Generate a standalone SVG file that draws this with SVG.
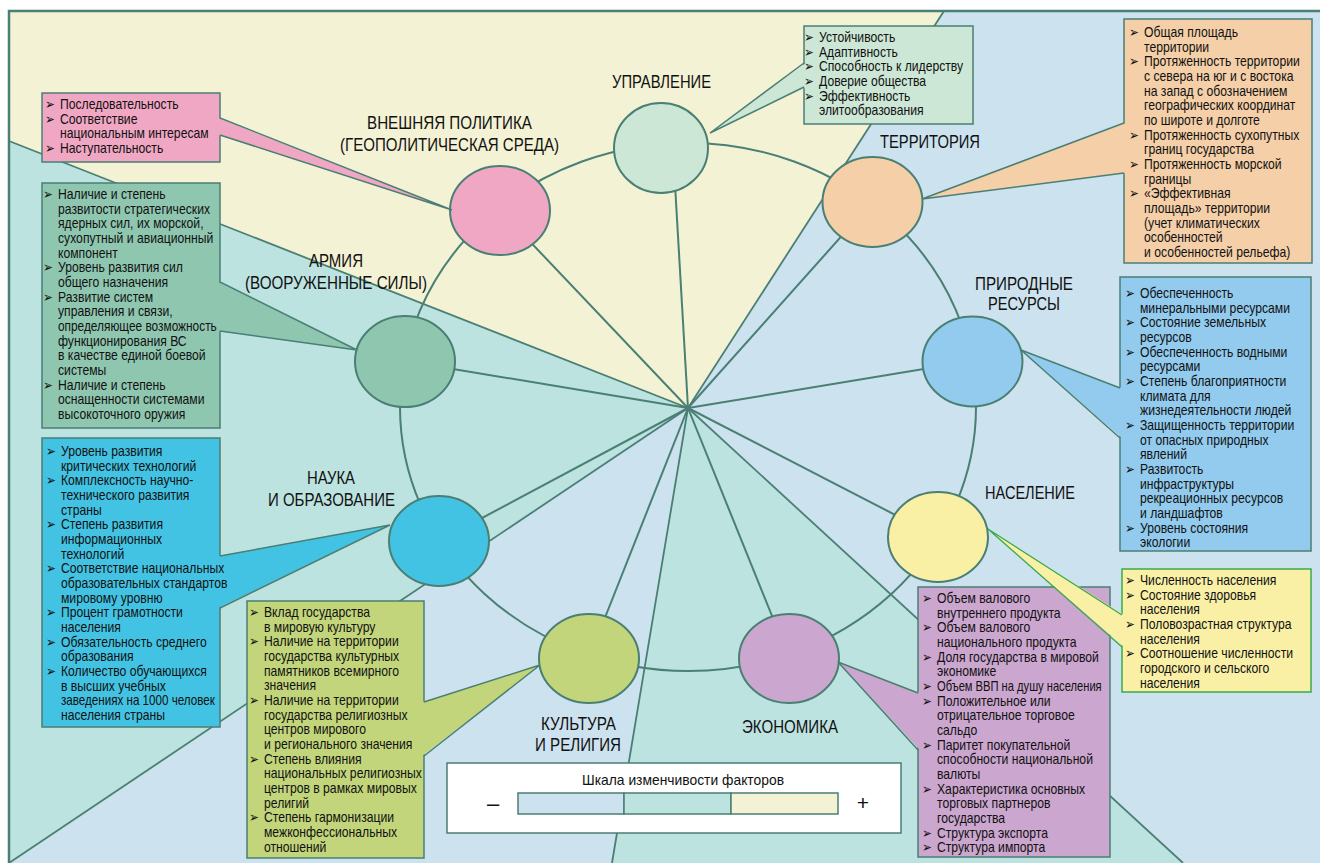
<svg xmlns="http://www.w3.org/2000/svg" width="1320" height="863" viewBox="0 0 1320 863">
<style>
.frame{stroke:#4a7f73;stroke-width:2.5;fill:none}
.bd{stroke:#4a7f73;stroke-width:1.8;fill:none}
.ln{stroke:#4a7f73;stroke-width:2;fill:none}
.nd{stroke:#4a7f73;stroke-width:2}
.bx{stroke:#4a7f73;stroke-width:1.5}
.wg{stroke:#4a7f73;stroke-width:1.5;fill:none}
.gbx{stroke:#3aaa4a;stroke-width:1.5}
.gwg{stroke:#3aaa4a;stroke-width:1.3;fill:none}
.t{font-family:"Liberation Sans",Arial,sans-serif;font-size:14.5px;fill:#111111}
.b{font-family:"DejaVu Sans",sans-serif;font-size:14px;font-weight:bold;fill:#111111}
.lb{font-family:"Liberation Sans",Arial,sans-serif;font-size:19px;fill:#111111}
.lg{font-family:"Liberation Sans",Arial,sans-serif;fill:#111111}
</style>
<rect x="0" y="0" width="1320" height="863" fill="#ffffff"/>
<g id="background">
<polygon points="9,11 944,11 688,408 9,141" fill="#f4f2d4"/>
<polygon points="9,141 688,408 9,863" fill="#bde3e1"/>
<polygon points="9,863 688,408 612,863" fill="#cce2ef"/>
<polygon points="612,863 688,408 1183,863" fill="#bde3e1"/>
<polygon points="1183,863 688,408 944,11 1320,11 1320,863" fill="#cce2ef"/>
<path class="frame" d="M9,863 V11 H1320"/>
</g>
<g id="connectors">
<line class="bd" x1="688" y1="408" x2="9" y2="141"/>
<line class="bd" x1="688" y1="408" x2="944" y2="11"/>
<line class="bd" x1="688" y1="408" x2="9" y2="863"/>
<line class="bd" x1="688" y1="408" x2="612" y2="863"/>
<line class="bd" x1="688" y1="408" x2="1183" y2="863"/>
<ellipse class="ln" cx="688" cy="407" rx="288" ry="264"/>
<line class="ln" x1="688" y1="408" x2="673" y2="150"/>
<line class="ln" x1="688" y1="408" x2="500" y2="210"/>
<line class="ln" x1="688" y1="408" x2="872" y2="202"/>
<line class="ln" x1="688" y1="408" x2="972" y2="361"/>
<line class="ln" x1="688" y1="408" x2="938" y2="537"/>
<line class="ln" x1="688" y1="408" x2="789" y2="658"/>
<line class="ln" x1="688" y1="408" x2="589" y2="658"/>
<line class="ln" x1="688" y1="408" x2="439" y2="541"/>
<line class="ln" x1="688" y1="408" x2="405" y2="361"/>
</g>

<g id="node-upravlenie">
<ellipse class="nd" cx="661" cy="148" rx="47" ry="45" fill="#cde7d6"/>
<text class="lb" x="612" y="88" textLength="99" lengthAdjust="spacingAndGlyphs">УПРАВЛЕНИЕ</text>
<rect class="bx" x="804" y="26" width="169" height="98" fill="#cde7d6"/>
<polygon points="806,63 710,133 806,87" fill="#cde7d6"/>
<polyline class="wg" points="804,63 710,133 804,87"/>
<g transform="translate(819,42) scale(0.84,1)">
<text class="b" x="-18" y="0">➢</text><text class="t" x="0" y="0">Устойчивость</text>
<text class="b" x="-18" y="14.67">➢</text><text class="t" x="0" y="14.67">Адаптивность</text>
<text class="b" x="-18" y="29.33">➢</text><text class="t" x="0" y="29.33">Способность к лидерству</text>
<text class="b" x="-18" y="44">➢</text><text class="t" x="0" y="44">Доверие общества</text>
<text class="b" x="-18" y="58.67">➢</text><text class="t" x="0" y="58.67">Эффективность</text>
<text class="t" x="0" y="73.33">элитообразования</text>
</g>
</g>

<g id="node-vneshnyaya-politika">
<ellipse class="nd" cx="500" cy="210.5" rx="50" ry="44.5" fill="#f0a7c4"/>
<text class="lb" x="367" y="129" textLength="165" lengthAdjust="spacingAndGlyphs">ВНЕШНЯЯ ПОЛИТИКА</text>
<text class="lb" x="340" y="151" textLength="219" lengthAdjust="spacingAndGlyphs">(ГЕОПОЛИТИЧЕСКАЯ СРЕДА)</text>
<rect class="bx" x="42" y="93" width="178" height="69" fill="#f0a7c4"/>
<polygon points="218,118 452,210 218,135" fill="#f0a7c4"/>
<polyline class="wg" points="220,118 452,210 220,135"/>
<g transform="translate(60,109) scale(0.84,1)">
<text class="b" x="-18" y="0">➢</text><text class="t" x="0" y="0">Последовательность</text>
<text class="b" x="-18" y="14.67">➢</text><text class="t" x="0" y="14.67">Соответствие</text>
<text class="t" x="0" y="29.33">национальным интересам</text>
<text class="b" x="-18" y="44">➢</text><text class="t" x="0" y="44">Наступательность</text>
</g>
</g>

<g id="node-territoriya">
<ellipse class="nd" cx="872.5" cy="202" rx="50" ry="45" fill="#f4cfa8"/>
<text class="lb" x="880" y="148" textLength="100" lengthAdjust="spacingAndGlyphs">ТЕРРИТОРИЯ</text>
<rect class="bx" x="1124" y="19" width="188" height="244" fill="#f4cfa8"/>
<polygon points="1126,123 922,199 1126,173" fill="#f4cfa8"/>
<polyline class="wg" points="1124,123 922,199 1124,173"/>
<g transform="translate(1144,37) scale(0.84,1)">
<text class="b" x="-18" y="0">➢</text><text class="t" x="0" y="0">Общая площадь</text>
<text class="t" x="0" y="14.67">территории</text>
<text class="b" x="-18" y="29.33">➢</text><text class="t" x="0" y="29.33">Протяженность территории</text>
<text class="t" x="0" y="44">с севера на юг и с востока</text>
<text class="t" x="0" y="58.67">на запад с обозначением</text>
<text class="t" x="0" y="73.33">географических координат</text>
<text class="t" x="0" y="88">по широте и долготе</text>
<text class="b" x="-18" y="102.67">➢</text><text class="t" x="0" y="102.67">Протяженность сухопутных</text>
<text class="t" x="0" y="117.33">границ государства</text>
<text class="b" x="-18" y="132">➢</text><text class="t" x="0" y="132">Протяженность морской</text>
<text class="t" x="0" y="146.67">границы</text>
<text class="b" x="-18" y="161.33">➢</text><text class="t" x="0" y="161.33">«Эффективная</text>
<text class="t" x="0" y="176">площадь» территории</text>
<text class="t" x="0" y="190.67">(учет климатических</text>
<text class="t" x="0" y="205.33">особенностей</text>
<text class="t" x="0" y="220">и особенностей рельефа)</text>
</g>
</g>

<g id="node-prirodnye-resursy">
<ellipse class="nd" cx="972.5" cy="361.5" rx="50" ry="45" fill="#92cbee"/>
<text class="lb" x="975" y="290" textLength="98" lengthAdjust="spacingAndGlyphs">ПРИРОДНЫЕ</text>
<text class="lb" x="988" y="310" textLength="72" lengthAdjust="spacingAndGlyphs">РЕСУРСЫ</text>
<rect class="bx" x="1120" y="277" width="191" height="274" fill="#92cbee"/>
<polygon points="1122,388 1021,350 1122,438" fill="#92cbee"/>
<polyline class="wg" points="1120,388 1021,350 1120,438"/>
<g transform="translate(1140,298) scale(0.84,1)">
<text class="b" x="-18" y="0">➢</text><text class="t" x="0" y="0">Обеспеченность</text>
<text class="t" x="0" y="14.67">минеральными ресурсами</text>
<text class="b" x="-18" y="29.33">➢</text><text class="t" x="0" y="29.33">Состояние земельных</text>
<text class="t" x="0" y="44">ресурсов</text>
<text class="b" x="-18" y="58.67">➢</text><text class="t" x="0" y="58.67">Обеспеченность водными</text>
<text class="t" x="0" y="73.33">ресурсами</text>
<text class="b" x="-18" y="88">➢</text><text class="t" x="0" y="88">Степень благоприятности</text>
<text class="t" x="0" y="102.67">климата для</text>
<text class="t" x="0" y="117.33">жизнедеятельности людей</text>
<text class="b" x="-18" y="132">➢</text><text class="t" x="0" y="132">Защищенность территории</text>
<text class="t" x="0" y="146.67">от опасных природных</text>
<text class="t" x="0" y="161.33">явлений</text>
<text class="b" x="-18" y="176">➢</text><text class="t" x="0" y="176">Развитость</text>
<text class="t" x="0" y="190.67">инфраструктуры</text>
<text class="t" x="0" y="205.33">рекреационных ресурсов</text>
<text class="t" x="0" y="220">и ландшафтов</text>
<text class="b" x="-18" y="234.67">➢</text><text class="t" x="0" y="234.67">Уровень состояния</text>
<text class="t" x="0" y="249.33">экологии</text>
</g>
</g>

<g id="node-armiya">
<ellipse class="nd" cx="405" cy="361.5" rx="50" ry="45.5" fill="#8fc6b0"/>
<text class="lb" x="309" y="267" textLength="54" lengthAdjust="spacingAndGlyphs">АРМИЯ</text>
<text class="lb" x="245" y="289" textLength="182" lengthAdjust="spacingAndGlyphs">(ВООРУЖЕННЫЕ СИЛЫ)</text>
<rect class="bx" x="42" y="183" width="178" height="245" fill="#8fc6b0"/>
<polygon points="218,282 357,350 218,331" fill="#8fc6b0"/>
<polyline class="wg" points="220,282 357,350 220,331"/>
<g transform="translate(58,199) scale(0.84,1)">
<text class="b" x="-18" y="0">➢</text><text class="t" x="0" y="0">Наличие и степень</text>
<text class="t" x="0" y="14.67">развитости стратегических</text>
<text class="t" x="0" y="29.33">ядерных сил, их морской,</text>
<text class="t" x="0" y="44">сухопутный и авиационный</text>
<text class="t" x="0" y="58.67">компонент</text>
<text class="b" x="-18" y="73.33">➢</text><text class="t" x="0" y="73.33">Уровень развития сил</text>
<text class="t" x="0" y="88">общего назначения</text>
<text class="b" x="-18" y="102.67">➢</text><text class="t" x="0" y="102.67">Развитие систем</text>
<text class="t" x="0" y="117.33">управления и связи,</text>
<text class="t" x="0" y="132" textLength="189" lengthAdjust="spacingAndGlyphs">определяющее возможность</text>
<text class="t" x="0" y="146.67">функционирования ВС</text>
<text class="t" x="0" y="161.33">в качестве единой боевой</text>
<text class="t" x="0" y="176">системы</text>
<text class="b" x="-18" y="190.67">➢</text><text class="t" x="0" y="190.67">Наличие и степень</text>
<text class="t" x="0" y="205.33">оснащенности системами</text>
<text class="t" x="0" y="220">высокоточного оружия</text>
</g>
</g>

<g id="node-nauka">
<ellipse class="nd" cx="439" cy="541" rx="50" ry="45" fill="#43c3e3"/>
<text class="lb" x="307" y="484" textLength="48" lengthAdjust="spacingAndGlyphs">НАУКА</text>
<text class="lb" x="268" y="506" textLength="127" lengthAdjust="spacingAndGlyphs">И ОБРАЗОВАНИЕ</text>
<rect class="bx" x="42" y="438" width="178" height="289" fill="#43c3e3"/>
<polygon points="218,556 390,525 218,608" fill="#43c3e3"/>
<polyline class="wg" points="220,556 390,525 220,608"/>
<g transform="translate(61,456) scale(0.84,1)">
<text class="b" x="-18" y="0">➢</text><text class="t" x="0" y="0">Уровень развития</text>
<text class="t" x="0" y="14.67">критических технологий</text>
<text class="b" x="-18" y="29.33">➢</text><text class="t" x="0" y="29.33">Комплексность научно-</text>
<text class="t" x="0" y="44">технического развития</text>
<text class="t" x="0" y="58.67">страны</text>
<text class="b" x="-18" y="73.33">➢</text><text class="t" x="0" y="73.33">Степень развития</text>
<text class="t" x="0" y="88">информационных</text>
<text class="t" x="0" y="102.67">технологий</text>
<text class="b" x="-18" y="117.33">➢</text><text class="t" x="0" y="117.33">Соответствие национальных</text>
<text class="t" x="0" y="132">образовательных стандартов</text>
<text class="t" x="0" y="146.67">мировому уровню</text>
<text class="b" x="-18" y="161.33">➢</text><text class="t" x="0" y="161.33">Процент грамотности</text>
<text class="t" x="0" y="176">населения</text>
<text class="b" x="-18" y="190.67">➢</text><text class="t" x="0" y="190.67">Обязательность среднего</text>
<text class="t" x="0" y="205.33">образования</text>
<text class="b" x="-18" y="220">➢</text><text class="t" x="0" y="220">Количество обучающихся</text>
<text class="t" x="0" y="234.67">в высших учебных</text>
<text class="t" x="0" y="249.33" textLength="183" lengthAdjust="spacingAndGlyphs">заведениях на 1000 человек</text>
<text class="t" x="0" y="264">населения страны</text>
</g>
</g>

<g id="node-kultura">
<ellipse class="nd" cx="589" cy="658.5" rx="50" ry="44.5" fill="#c3d57b"/>
<text class="lb" x="541" y="730" textLength="75" lengthAdjust="spacingAndGlyphs">КУЛЬТУРА</text>
<text class="lb" x="535" y="751" textLength="86" lengthAdjust="spacingAndGlyphs">И РЕЛИГИЯ</text>
<rect class="bx" x="247" y="601" width="177" height="257" fill="#c3d57b"/>
<polygon points="422,702 540,665 422,756" fill="#c3d57b"/>
<polyline class="wg" points="424,702 540,665 424,756"/>
<g transform="translate(264,617) scale(0.84,1)">
<text class="b" x="-18" y="0">➢</text><text class="t" x="0" y="0">Вклад государства</text>
<text class="t" x="0" y="14.67">в мировую культуру</text>
<text class="b" x="-18" y="29.33">➢</text><text class="t" x="0" y="29.33">Наличие на территории</text>
<text class="t" x="0" y="44">государства культурных</text>
<text class="t" x="0" y="58.67">памятников всемирного</text>
<text class="t" x="0" y="73.33">значения</text>
<text class="b" x="-18" y="88">➢</text><text class="t" x="0" y="88">Наличие на территории</text>
<text class="t" x="0" y="102.67">государства религиозных</text>
<text class="t" x="0" y="117.33">центров мирового</text>
<text class="t" x="0" y="132">и регионального значения</text>
<text class="b" x="-18" y="146.67">➢</text><text class="t" x="0" y="146.67">Степень влияния</text>
<text class="t" x="0" y="161.33">национальных религиозных</text>
<text class="t" x="0" y="176">центров в рамках мировых</text>
<text class="t" x="0" y="190.67">религий</text>
<text class="b" x="-18" y="205.33">➢</text><text class="t" x="0" y="205.33">Степень гармонизации</text>
<text class="t" x="0" y="220">межконфессиональных</text>
<text class="t" x="0" y="234.67">отношений</text>
</g>
</g>

<g id="node-ekonomika">
<ellipse class="nd" cx="789" cy="658.5" rx="50" ry="44.5" fill="#cba6ce"/>
<text class="lb" x="742" y="733" textLength="96" lengthAdjust="spacingAndGlyphs">ЭКОНОМИКА</text>
<rect class="bx" x="918" y="587" width="192" height="270" fill="#cba6ce"/>
<polygon points="920,693 838,662 920,750" fill="#cba6ce"/>
<polyline class="wg" points="918,693 838,662 918,750"/>
<g transform="translate(937,603) scale(0.84,1)">
<text class="b" x="-18" y="0">➢</text><text class="t" x="0" y="0">Объем валового</text>
<text class="t" x="0" y="14.67">внутреннего продукта</text>
<text class="b" x="-18" y="29.33">➢</text><text class="t" x="0" y="29.33">Объем валового</text>
<text class="t" x="0" y="44">национального продукта</text>
<text class="b" x="-18" y="58.67">➢</text><text class="t" x="0" y="58.67">Доля государства в мировой</text>
<text class="t" x="0" y="73.33">экономике</text>
<text class="b" x="-18" y="88">➢</text><text class="t" x="0" y="88" textLength="196" lengthAdjust="spacingAndGlyphs">Объем ВВП на душу населения</text>
<text class="b" x="-18" y="102.67">➢</text><text class="t" x="0" y="102.67">Положительное или</text>
<text class="t" x="0" y="117.33">отрицательное торговое</text>
<text class="t" x="0" y="132">сальдо</text>
<text class="b" x="-18" y="146.67">➢</text><text class="t" x="0" y="146.67">Паритет покупательной</text>
<text class="t" x="0" y="161.33">способности национальной</text>
<text class="t" x="0" y="176">валюты</text>
<text class="b" x="-18" y="190.67">➢</text><text class="t" x="0" y="190.67">Характеристика основных</text>
<text class="t" x="0" y="205.33">торговых партнеров</text>
<text class="t" x="0" y="220">государства</text>
<text class="b" x="-18" y="234.67">➢</text><text class="t" x="0" y="234.67">Структура экспорта</text>
<text class="b" x="-18" y="249.33">➢</text><text class="t" x="0" y="249.33">Структура импорта</text>
</g>
</g>

<g id="node-naselenie">
<ellipse class="nd" cx="938" cy="537" rx="50" ry="45" fill="#f9f0a6"/>
<text class="lb" x="985" y="499" textLength="90" lengthAdjust="spacingAndGlyphs">НАСЕЛЕНИЕ</text>
<rect class="gbx" x="1122" y="569" width="189" height="123" fill="#f9f0a6"/>
<polygon points="1124,615 988,529 1124,647" fill="#f9f0a6"/>
<polyline class="gwg" points="1122,615 988,529 1122,647"/>
<g transform="translate(1140,585) scale(0.84,1)">
<text class="b" x="-18" y="0">➢</text><text class="t" x="0" y="0">Численность населения</text>
<text class="b" x="-18" y="14.67">➢</text><text class="t" x="0" y="14.67">Состояние здоровья</text>
<text class="t" x="0" y="29.33">населения</text>
<text class="b" x="-18" y="44">➢</text><text class="t" x="0" y="44">Половозрастная структура</text>
<text class="t" x="0" y="58.67">населения</text>
<text class="b" x="-18" y="73.33">➢</text><text class="t" x="0" y="73.33">Соотношение численности</text>
<text class="t" x="0" y="88">городского и сельского</text>
<text class="t" x="0" y="102.67">населения</text>
</g>
</g>

<g id="legend">
<rect class="bx" x="447" y="763" width="454" height="70" fill="#ffffff"/>
<text class="lg" x="582" y="785" style="font-size:15px" textLength="202" lengthAdjust="spacingAndGlyphs">Шкала изменчивости факторов</text>
<rect class="bx" x="518" y="793" width="106" height="21" fill="#cce2ef"/>
<rect class="bx" x="624" y="793" width="107" height="21" fill="#bde3e1"/>
<rect class="bx" x="731" y="793" width="107" height="21" fill="#f4f2d4"/>
<text class="lg" x="493" y="811" style="font-size:22px" text-anchor="middle">–</text>
<text class="lg" x="863" y="810" style="font-size:21px" text-anchor="middle">+</text>
</g>
</svg>
